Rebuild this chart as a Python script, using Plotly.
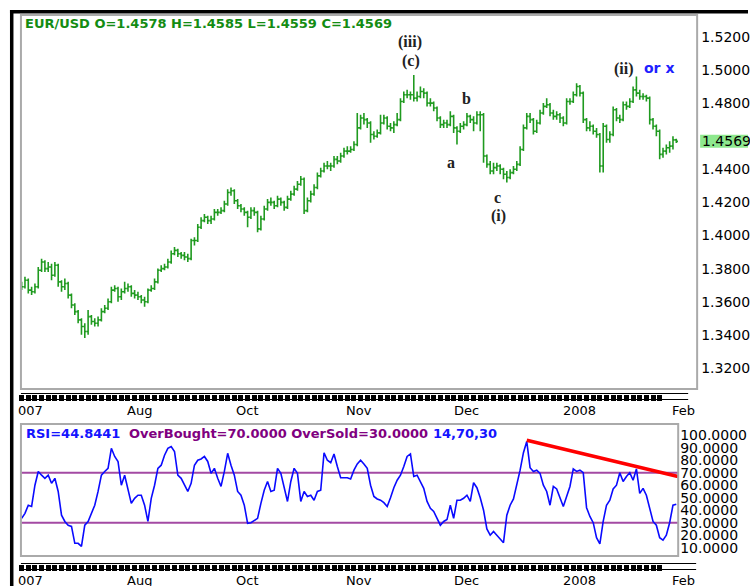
import plotly.graph_objects as go

# ---- values, one bar per step, oldest first ----
bar_open = [
    1.370, 1.369, 1.373, 1.367, 1.366, 1.369, 1.379, 1.384, 1.380, 1.381,
    1.376, 1.382, 1.372, 1.369, 1.371, 1.364, 1.358, 1.354, 1.349, 1.345,
    1.342, 1.351, 1.348, 1.347, 1.349, 1.354, 1.356, 1.360, 1.367, 1.368,
    1.363, 1.366, 1.368, 1.369, 1.365, 1.364, 1.363, 1.361, 1.360, 1.367,
    1.368, 1.372, 1.379, 1.380, 1.381, 1.384, 1.389, 1.391, 1.389, 1.388,
    1.387, 1.386, 1.397, 1.397, 1.405, 1.409, 1.411, 1.409, 1.410, 1.414,
    1.414, 1.415, 1.419, 1.426, 1.427, 1.421, 1.418, 1.416, 1.414,
    1.411, 1.415, 1.414, 1.404, 1.410, 1.416, 1.420, 1.420, 1.418, 1.422,
    1.420, 1.417, 1.422, 1.425, 1.428, 1.431, 1.434, 1.415, 1.421, 1.425,
    1.429, 1.436, 1.439, 1.442, 1.442, 1.442, 1.446, 1.445, 1.448, 1.451,
    1.451, 1.452, 1.455, 1.465, 1.471, 1.470, 1.468, 1.461, 1.460, 1.462,
    1.468, 1.471, 1.466, 1.465, 1.467, 1.470, 1.481, 1.485, 1.485, 1.485,
    1.483, 1.484, 1.487, 1.486, 1.480, 1.480, 1.477, 1.471, 1.467, 1.468,
    1.467, 1.472, 1.465, 1.463, 1.466, 1.467, 1.472,
    1.470, 1.468, 1.473, 1.473, 1.448, 1.443, 1.439, 1.441, 1.442, 1.440,
    1.437, 1.435, 1.438, 1.440, 1.443, 1.452, 1.465, 1.472, 1.470, 1.463,
    1.468, 1.474, 1.478, 1.479, 1.474, 1.472, 1.473, 1.471, 1.468, 1.481,
    1.481, 1.485, 1.490, 1.486, 1.470, 1.465, 1.466, 1.463, 1.461, 1.442,
    1.466, 1.458, 1.461, 1.476, 1.471, 1.470, 1.479, 1.478, 1.481, 1.488,
    1.486, 1.484, 1.484, 1.483, 1.470, 1.466, 1.463, 1.449, 1.451, 1.453,
    1.454, 1.4578,
]
bar_high = [
    1.372, 1.375, 1.374, 1.369, 1.371, 1.381, 1.386, 1.385, 1.384, 1.383,
    1.384, 1.383, 1.373, 1.374, 1.372, 1.365, 1.359, 1.355, 1.350, 1.347,
    1.355, 1.352, 1.350, 1.351, 1.356, 1.358, 1.362, 1.369, 1.370, 1.369,
    1.368, 1.372, 1.371, 1.370, 1.367, 1.366, 1.364, 1.363, 1.368, 1.370,
    1.374, 1.380, 1.382, 1.383, 1.386, 1.391, 1.393, 1.392, 1.390, 1.390,
    1.389, 1.398, 1.399, 1.407, 1.411, 1.413, 1.412, 1.412, 1.416, 1.416,
    1.417, 1.421, 1.428, 1.429, 1.428, 1.422, 1.419, 1.417, 1.415,
    1.417, 1.417, 1.415, 1.412, 1.418, 1.422, 1.423, 1.421, 1.424, 1.423,
    1.421, 1.424, 1.427, 1.430, 1.433, 1.436, 1.435, 1.423, 1.427, 1.431,
    1.438, 1.441, 1.444, 1.445, 1.444, 1.448, 1.448, 1.450, 1.453, 1.454,
    1.454, 1.457, 1.474, 1.473, 1.474, 1.471, 1.469, 1.463, 1.464, 1.473,
    1.473, 1.472, 1.468, 1.469, 1.474, 1.483, 1.487, 1.488, 1.487, 1.497,
    1.487, 1.490, 1.489, 1.487, 1.483, 1.481, 1.478, 1.472, 1.470, 1.470,
    1.475, 1.473, 1.466, 1.468, 1.469, 1.474, 1.473,
    1.472, 1.475, 1.475, 1.474, 1.449, 1.445, 1.444, 1.444, 1.443, 1.441,
    1.439, 1.440, 1.442, 1.445, 1.454, 1.467, 1.474, 1.474, 1.471, 1.470,
    1.476, 1.480, 1.483, 1.480, 1.476, 1.475, 1.474, 1.472, 1.483, 1.483,
    1.487, 1.492, 1.491, 1.487, 1.471, 1.469, 1.467, 1.465, 1.462, 1.468,
    1.467, 1.463, 1.478, 1.477, 1.473, 1.481, 1.481, 1.483, 1.490, 1.496,
    1.488, 1.486, 1.485, 1.484, 1.471, 1.467, 1.464, 1.453, 1.455, 1.457,
    1.460, 1.4585,
]
bar_low = [
    1.367, 1.368, 1.365, 1.364, 1.365, 1.368, 1.378, 1.378, 1.378, 1.373,
    1.375, 1.369, 1.366, 1.367, 1.362, 1.356, 1.352, 1.347, 1.340, 1.338,
    1.340, 1.346, 1.345, 1.345, 1.348, 1.353, 1.355, 1.359, 1.366, 1.360,
    1.361, 1.365, 1.366, 1.363, 1.362, 1.361, 1.359, 1.357, 1.359, 1.366,
    1.367, 1.371, 1.378, 1.379, 1.380, 1.383, 1.388, 1.387, 1.386, 1.385,
    1.384, 1.385, 1.394, 1.396, 1.404, 1.408, 1.407, 1.407, 1.409, 1.412,
    1.413, 1.414, 1.418, 1.424, 1.419, 1.416, 1.414, 1.412, 1.405,
    1.410, 1.412, 1.402, 1.403, 1.409, 1.415, 1.418, 1.416, 1.417, 1.418,
    1.415, 1.416, 1.421, 1.424, 1.427, 1.430, 1.413, 1.414, 1.420, 1.424,
    1.428, 1.435, 1.438, 1.440, 1.439, 1.441, 1.443, 1.444, 1.447, 1.449,
    1.450, 1.451, 1.454, 1.464, 1.467, 1.465, 1.456, 1.458, 1.459, 1.461,
    1.467, 1.464, 1.463, 1.462, 1.466, 1.469, 1.480, 1.483, 1.482, 1.481,
    1.481, 1.483, 1.483, 1.478, 1.478, 1.475, 1.469, 1.465, 1.465, 1.465,
    1.466, 1.462, 1.455, 1.462, 1.464, 1.466, 1.468,
    1.463, 1.467, 1.463, 1.444, 1.441, 1.437, 1.437, 1.439, 1.437, 1.434,
    1.432, 1.434, 1.437, 1.439, 1.442, 1.451, 1.464, 1.468, 1.461, 1.462,
    1.467, 1.473, 1.477, 1.472, 1.470, 1.470, 1.468, 1.466, 1.467, 1.479,
    1.480, 1.484, 1.484, 1.468, 1.463, 1.463, 1.461, 1.459, 1.438, 1.438,
    1.456, 1.456, 1.460, 1.469, 1.468, 1.469, 1.476, 1.477, 1.480, 1.484,
    1.482, 1.482, 1.481, 1.467, 1.464, 1.460, 1.446, 1.447, 1.449, 1.450,
    1.452, 1.4559,
]
bar_close = [
    1.369, 1.373, 1.367, 1.366, 1.369, 1.379, 1.384, 1.380, 1.381, 1.376,
    1.382, 1.372, 1.369, 1.371, 1.364, 1.358, 1.354, 1.349, 1.345, 1.342,
    1.351, 1.348, 1.347, 1.349, 1.354, 1.356, 1.360, 1.367, 1.368, 1.363,
    1.366, 1.368, 1.369, 1.365, 1.364, 1.363, 1.361, 1.360, 1.367, 1.368,
    1.372, 1.379, 1.380, 1.381, 1.384, 1.389, 1.391, 1.389, 1.388, 1.387,
    1.386, 1.397, 1.397, 1.405, 1.409, 1.411, 1.409, 1.410, 1.414, 1.414,
    1.415, 1.419, 1.426, 1.427, 1.421, 1.418, 1.416, 1.414, 1.411,
    1.415, 1.414, 1.404, 1.410, 1.416, 1.420, 1.420, 1.418, 1.422, 1.420,
    1.417, 1.422, 1.425, 1.428, 1.431, 1.434, 1.415, 1.421, 1.425, 1.429,
    1.436, 1.439, 1.442, 1.442, 1.442, 1.446, 1.445, 1.448, 1.451, 1.451,
    1.452, 1.455, 1.465, 1.471, 1.470, 1.468, 1.461, 1.460, 1.462, 1.468,
    1.471, 1.466, 1.465, 1.467, 1.470, 1.481, 1.485, 1.485, 1.485, 1.483,
    1.484, 1.487, 1.486, 1.480, 1.480, 1.477, 1.471, 1.467, 1.468, 1.467,
    1.472, 1.465, 1.463, 1.466, 1.467, 1.472, 1.470,
    1.468, 1.473, 1.473, 1.448, 1.443, 1.439, 1.441, 1.442, 1.440, 1.437,
    1.435, 1.438, 1.440, 1.443, 1.452, 1.465, 1.472, 1.470, 1.463, 1.468,
    1.474, 1.478, 1.479, 1.474, 1.472, 1.473, 1.471, 1.468, 1.481, 1.481,
    1.485, 1.490, 1.486, 1.470, 1.465, 1.466, 1.463, 1.461, 1.442, 1.466,
    1.458, 1.461, 1.476, 1.471, 1.470, 1.479, 1.478, 1.481, 1.488, 1.486,
    1.484, 1.484, 1.483, 1.470, 1.466, 1.463, 1.449, 1.451, 1.453, 1.454,
    1.4578, 1.4569,
]
rsi_values = [
    33.5, 37.5, 44, 43, 60, 71, 68, 65.5, 68, 61.5,
    65.5, 55, 36, 31, 28, 27, 13.5, 13.5, 11, 28,
    31, 37.5, 44, 55, 68, 71, 73.5, 89.5, 83, 79,
    60, 68, 57.5, 45.5, 49.5, 52, 52, 44, 31, 49.5,
    60, 73.5, 76, 84, 89.5, 91, 87, 68, 65.5, 60,
    55, 61.5, 76, 80, 81, 83, 79, 69.5, 73.5, 65.5,
    59, 71, 85.5, 76, 68, 55, 52, 44, 29.5,
    30, 32, 33.5, 45.5, 56, 63, 55, 56, 73.5, 69.5,
    57.5, 47, 63, 73.5, 69.5, 47, 55, 51, 52, 48,
    55, 56, 86, 80, 78, 85, 75, 66, 66, 66,
    65, 72, 77, 80, 77, 73.5, 60, 51, 49, 48,
    46, 43, 50, 58, 64, 68, 75, 83, 85, 67,
    68, 63, 57.5, 47, 41.5, 39, 33.5, 28, 31, 32.5,
    44, 33.5, 48, 48, 49.5, 52, 47,
    62, 58, 50, 40, 25, 20, 23, 20, 17, 14,
    36, 44, 49, 60, 72, 86, 95, 74, 71, 72,
    69.5, 60, 55, 44, 59, 57, 49.5, 43, 51, 59,
    73, 71, 72, 70, 42, 35, 30, 18, 13, 31,
    44, 48, 57, 60, 70, 63, 67, 70, 64, 73,
    53.5, 57.5, 52, 41.5, 31, 28, 18, 16, 20, 30,
    44, 44.8441,
]
bar_x = list(range(len(bar_close)))

overbought, oversold = 70, 30
trend_x = [152, 197.5]
trend_rsi = [96, 67]

price_ticks = [1.32, 1.34, 1.36, 1.38, 1.40, 1.42, 1.44, 1.48, 1.50, 1.52]
rsi_ticks = [10, 20, 30, 40, 50, 60, 70, 80, 90, 100]
month_labels = ["007", "Aug", "Oct", "Nov", "Dec", "2008", "Feb"]
month_pos = [2.7, 35.5, 67.9, 101.5, 133.9, 167.8, 199.1]

W, H = 750, 586
GREEN = "#1f9a1f"


def px(x):
    return x / W


def py(y):
    return 1 - y / H


fig = go.Figure()

fig.add_trace(go.Ohlc(
    x=bar_x, open=bar_open, high=bar_high, low=bar_low, close=bar_close,
    increasing=dict(line=dict(color=GREEN, width=1.6)),
    decreasing=dict(line=dict(color=GREEN, width=1.6)),
    tickwidth=0.5, xaxis="x", yaxis="y", hoverinfo="skip"
))
fig.add_trace(go.Scatter(
    x=bar_x, y=rsi_values, mode="lines", line=dict(color="#0a0aff", width=1.6),
    xaxis="x2", yaxis="y2", hoverinfo="skip"
))
fig.add_trace(go.Scatter(
    x=trend_x, y=trend_rsi, mode="lines", line=dict(color="#ff0000", width=3.5),
    xaxis="x2", yaxis="y2", hoverinfo="skip"
))

strip = dict(anchor="free", showgrid=False, zeroline=False, showline=False,
             ticks="outside", ticklen=6, tickwidth=5, tickcolor="black",
             tickvals=list(range(0, 193, 2)), showticklabels=False, fixedrange=True)
label_font = dict(family="DejaVu Sans", size=13, color="black")
scale_font = dict(family="DejaVu Sans", size=14, color="black")

shapes = [
    # black frame
    dict(type="rect", xref="paper", yref="paper", x0=px(10), x1=1, y0=py(13.5), y1=py(10),
         fillcolor="black", line=dict(width=0)),
    dict(type="rect", xref="paper", yref="paper", x0=px(10), x1=px(13.5), y0=0, y1=py(10),
         fillcolor="black", line=dict(width=0)),
    # panel borders
    dict(type="rect", xref="paper", yref="paper", x0=px(21), x1=px(699), y0=py(389), y1=py(15),
         line=dict(color="#aaaaaa", width=2)),
    dict(type="rect", xref="paper", yref="paper", x0=px(21), x1=px(680), y0=py(556), y1=py(424),
         line=dict(color="#aaaaaa", width=2)),
    # time strips
    dict(type="line", xref="paper", yref="paper", x0=px(21), x1=px(690), y0=py(393.5), y1=py(393.5),
         line=dict(color="black", width=1.2)),
    dict(type="line", xref="paper", yref="paper", x0=px(21), x1=px(690), y0=py(399.5), y1=py(399.5),
         line=dict(color="black", width=1.2)),
    dict(type="line", xref="paper", yref="paper", x0=px(21), x1=px(698), y0=py(563.5), y1=py(563.5),
         line=dict(color="black", width=1.2)),
    dict(type="line", xref="paper", yref="paper", x0=px(21), x1=px(698), y0=py(569.5), y1=py(569.5),
         line=dict(color="black", width=1.2)),
    # overbought / oversold
    dict(type="line", xref="x2 domain", yref="y2", x0=0, x1=1, y0=overbought, y1=overbought,
         line=dict(color="#a34aa3", width=2), layer="below"),
    dict(type="line", xref="x2 domain", yref="y2", x0=0, x1=1, y0=oversold, y1=oversold,
         line=dict(color="#a34aa3", width=2), layer="below"),
    # last price box
    dict(type="rect", xref="paper", yref="y", x0=px(702), x1=1,
         y0=bar_close[-1] - 0.0039, y1=bar_close[-1] + 0.0039,
         fillcolor="#8ee88e", line=dict(width=0), layer="below"),
]

annotations = []
title = (f"<b>EUR/USD O={bar_open[-1]:.4f} H={bar_high[-1]:.4f} "
         f"L={bar_low[-1]:.4f} C={bar_close[-1]:.4f}</b>")
annotations.append(dict(text=title, xref="paper", yref="paper", x=px(23), y=py(24),
                        xanchor="left", yanchor="middle", showarrow=False,
                        font=dict(family="DejaVu Sans", size=13, color="#138c13")))
annotations.append(dict(text=f"{bar_close[-1]:.4f}", xref="paper", yref="y", x=px(702),
                        y=bar_close[-1], xanchor="left", yanchor="middle", showarrow=False,
                        font=scale_font))

# RSI header
annotations.append(dict(text=f"<b>RSI={rsi_values[-1]:.4f}</b>", xref="paper", yref="paper",
                        x=px(24), y=py(433), xanchor="left", yanchor="middle", showarrow=False,
                        font=dict(family="DejaVu Sans", size=13, color="#1414ff")))
annotations.append(dict(text=f"<b>OverBought={overbought:.4f} OverSold={oversold:.4f}</b>",
                        xref="paper", yref="paper", x=px(127), y=py(433), xanchor="left",
                        yanchor="middle", showarrow=False,
                        font=dict(family="DejaVu Sans", size=13, color="#800080")))
annotations.append(dict(text="<b>14,70,30</b>", xref="paper", yref="paper", x=px(432), y=py(433),
                        xanchor="left", yanchor="middle", showarrow=False,
                        font=dict(family="DejaVu Sans", size=13, color="#1414ff")))

# Elliott wave labels
wave_labels = [("(iii)", 116.8, 1.5172), ("(c)", 117.1, 1.5054), ("b", 133.9, 1.4825),
               ("a", 129.1, 1.4444), ("c", 143.3, 1.4227), ("(i)", 143.6, 1.4118),
               ("(ii)", 181.4, 1.5006)]
for txt, wx, wy in wave_labels:
    annotations.append(dict(text=f"<b>{txt}</b>", xref="x", yref="y", x=wx, y=wy,
                            showarrow=False,
                            font=dict(family="Liberation Serif", size=16, color="#222222")))
annotations.append(dict(text="<b>or x</b>", xref="x", yref="y", x=191.9, y=1.5012,
                        showarrow=False, font=dict(family="DejaVu Sans", size=14, color="#2020ff")))

# month labels under both panels
for lab, pos in zip(month_labels, month_pos):
    for row_y in (410, 580):
        annotations.append(dict(text=lab, xref="x", yref="paper", x=pos, y=py(row_y),
                                xanchor="center", yanchor="middle", showarrow=False,
                                font=label_font))

fig.update_layout(
    width=W, height=H, margin=dict(l=0, r=0, t=0, b=0),
    paper_bgcolor="white", plot_bgcolor="white", showlegend=False,
    xaxis=dict(domain=[px(21), px(699)], range=[-0.21, 203.27], position=py(393.5),
               rangeslider=dict(visible=False), **strip),
    yaxis=dict(domain=[py(389), py(15)], range=[1.30725, 1.53323], side="right",
               showgrid=False, zeroline=False, ticks="", tickvals=price_ticks,
               ticktext=[f"{v:.4f}" for v in price_ticks], tickfont=scale_font,
               ticklabelstandoff=3, fixedrange=True),
    xaxis2=dict(domain=[px(21), px(680)], range=[-0.21, 197.57], position=py(563.5), **strip),
    yaxis2=dict(domain=[py(556), py(425)], range=[3.36, 108.16], side="right", anchor="x2",
                showgrid=False, zeroline=False, ticks="", tickvals=rsi_ticks,
                ticktext=[f"{v:.4f}" for v in rsi_ticks], tickfont=scale_font,
                ticklabelstandoff=1, fixedrange=True),
    shapes=shapes, annotations=annotations,
)

# the page's default body margin would shift the figure by 8px
fig.write_html("out.html", config={"displayModeBar": False},
               post_script="document.body.style.margin='0';")
